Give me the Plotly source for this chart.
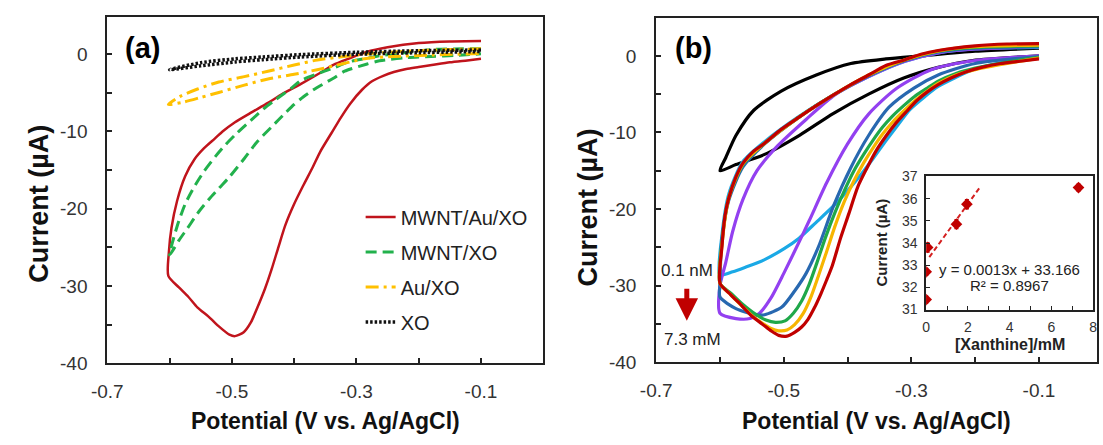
import plotly.graph_objects as go

W, H = 1103, 445

# ---------------- panel (a): CVs of the modified electrodes ----------------
# each loop: cathodic sweep (-0.1 -> -0.6 V) followed by the return sweep
a_red_v_fwd = [-0.1, -0.15, -0.2, -0.25, -0.284, -0.31, -0.337, -0.36, -0.389, -0.42, -0.442,
               -0.47, -0.495, -0.515, -0.527, -0.545, -0.56, -0.575, -0.588, -0.597, -0.601, -0.602]
a_red_i_fwd = [1.72, 1.66, 1.45, 0.9, 0.29, -0.5, -1.37, -2.5, -3.85, -5.2, -6.3,
               -7.6, -8.8, -10.0, -10.9, -12.2, -13.6, -15.8, -19.0, -22.5, -25.5, -28.7]
a_red_v_rev = [-0.602, -0.585, -0.57, -0.555, -0.537, -0.52, -0.504, -0.495, -0.481, -0.47,
               -0.459, -0.447, -0.436, -0.425, -0.414, -0.4, -0.386, -0.37, -0.358, -0.34,
               -0.325, -0.31, -0.291, -0.275, -0.257, -0.24, -0.22, -0.2, -0.179, -0.15, -0.122, -0.1]
a_red_i_rev = [-28.9, -30.2, -31.4, -32.8, -34.0, -35.3, -36.3, -36.5, -36.0, -34.8,
               -32.8, -30.4, -27.8, -24.9, -22.1, -19.4, -17.1, -14.6, -12.6, -10.2,
               -8.2, -6.4, -4.6, -3.5, -2.8, -2.3, -1.9, -1.65, -1.4, -1.05, -0.8, -0.6]

a_green_v_fwd = [-0.1, -0.13, -0.18, -0.232, -0.263, -0.284, -0.313, -0.337, -0.358, -0.389, -0.403,
                 -0.43, -0.448, -0.47, -0.493, -0.51, -0.526, -0.545, -0.56, -0.575, -0.588, -0.6]
a_green_i_fwd = [0.7, 0.7, 0.6, 0.1, -0.2, -0.54, -1.0, -1.8, -2.4, -3.4, -4.3,
                 -5.9, -7.0, -8.6, -10.3, -11.7, -13.2, -15.2, -17.1, -19.4, -22.3, -26.0]
a_green_v_rev = [-0.6, -0.585, -0.571, -0.555, -0.537, -0.52, -0.504, -0.48, -0.459, -0.436, -0.414,
                 -0.4, -0.385, -0.369, -0.337, -0.319, -0.284, -0.263, -0.22, -0.18, -0.14, -0.1]
a_green_i_rev = [-26.0, -24.1, -22.5, -20.6, -18.8, -17.3, -15.9, -13.5, -11.3, -9.4, -7.6,
                 -6.5, -5.5, -4.6, -3.1, -2.2, -1.3, -0.85, -0.45, -0.3, -0.15, 0.05]

a_orange_v_fwd = [-0.1, -0.15, -0.2, -0.25, -0.284, -0.32, -0.363, -0.4, -0.442, -0.48, -0.521, -0.555, -0.584, -0.602]
a_orange_i_fwd = [0.7, 0.6, 0.45, 0.25, 0.04, -0.3, -0.75, -1.4, -2.2, -2.9, -3.6, -4.5, -5.5, -6.5]
a_orange_v_rev = [-0.602, -0.578, -0.55, -0.521, -0.48, -0.442, -0.4, -0.363, -0.32, -0.284, -0.24, -0.18, -0.1]
a_orange_i_rev = [-6.5, -6.2, -5.6, -4.95, -4.0, -3.2, -2.6, -2.0, -1.2, -0.54, -0.3, -0.1, 0.1]

a_black_v_fwd = [-0.1, -0.2, -0.3, -0.389, -0.45, -0.495, -0.55, -0.6]
a_black_i_fwd = [0.55, 0.45, 0.25, -0.05, -0.35, -0.6, -1.1, -2.0]
a_black_v_rev = [-0.6, -0.55, -0.495, -0.45, -0.389, -0.3, -0.2, -0.1]
a_black_i_rev = [-2.2, -1.5, -1.0, -0.7, -0.35, 0.0, 0.2, 0.35]

# ---------------- panel (b): CVs with increasing xanthine ----------------
b_black_v_fwd = [-0.1, -0.2, -0.285, -0.34, -0.395, -0.449, -0.504, -0.547, -0.575, -0.591, -0.6]
b_black_i_fwd = [1.0, 0.6, 0.0, -0.4, -1.0, -2.5, -4.6, -7.1, -10.4, -13.3, -15.0]
b_black_v_rev = [-0.6, -0.575, -0.531, -0.476, -0.422, -0.367, -0.312, -0.258, -0.204, -0.1]
b_black_i_rev = [-15.0, -14.2, -12.9, -10.4, -7.5, -5.0, -2.9, -1.5, -0.6, 0.0]

b_cyan_v_fwd = [-0.1, -0.2, -0.258, -0.31, -0.367, -0.42, -0.476, -0.53, -0.564, -0.586, -0.597, -0.6]
b_cyan_i_fwd = [1.1, 0.9, 0.4, -0.7, -2.7, -5.0, -7.9, -11.2, -13.8, -18.0, -23.5, -28.6]
b_cyan_v_rev = [-0.6, -0.58, -0.56, -0.53, -0.5, -0.476, -0.45, -0.422, -0.4, -0.378, -0.36,
                -0.34, -0.32, -0.302, -0.28, -0.258, -0.23, -0.204, -0.16, -0.1]
b_cyan_i_rev = [-28.6, -28.2, -27.6, -26.6, -25.2, -23.8, -21.8, -19.6, -17.6, -15.4, -13.4,
                -11.1, -8.9, -7.0, -5.4, -4.0, -2.8, -1.8, -0.9, -0.1]

b_purple_v_fwd = [-0.1, -0.2, -0.258, -0.31, -0.367, -0.42, -0.465, -0.509, -0.542, -0.564, -0.58, -0.591, -0.6, -0.6]
b_purple_i_fwd = [1.2, 0.9, 0.4, -0.7, -2.7, -5.1, -8.3, -11.7, -15.0, -18.75, -22.9, -27.0, -30.0, -33.6]
b_purple_v_rev = [-0.6, -0.575, -0.553, -0.538, -0.52, -0.5, -0.48, -0.46, -0.433, -0.4,
                  -0.367, -0.324, -0.269, -0.2, -0.1]
b_purple_i_rev = [-33.6, -34.3, -34.3, -33.6, -31.6, -28.4, -25.0, -21.5, -16.6, -11.5,
                  -7.6, -4.3, -1.8, -0.6, 0.0]

b_blue_v_fwd = [-0.1, -0.2, -0.258, -0.31, -0.367, -0.42, -0.476, -0.53, -0.564, -0.586, -0.597, -0.6, -0.6]
b_blue_i_fwd = [1.2, 1.0, 0.5, -0.6, -2.6, -5.0, -8.0, -11.5, -14.5, -18.8, -24.0, -29.7, -31.5]
b_blue_v_rev = [-0.6, -0.575, -0.544, -0.53, -0.503, -0.483, -0.465, -0.444, -0.422, -0.395,
                -0.367, -0.335, -0.296, -0.258, -0.2, -0.1]
b_blue_i_rev = [-31.5, -33.0, -33.8, -33.8, -32.8, -30.7, -28.4, -24.6, -19.6, -14.6,
                -10.4, -6.7, -4.2, -2.5, -1.0, -0.1]

b_green_v_fwd = [-0.1, -0.2, -0.258, -0.31, -0.367, -0.42, -0.476, -0.53, -0.564, -0.586, -0.597, -0.6]
b_green_i_fwd = [1.3, 1.1, 0.6, -0.55, -2.55, -5.0, -8.0, -11.4, -14.2, -18.5, -24.5, -29.7]
b_green_v_rev = [-0.6, -0.583, -0.565, -0.545, -0.528, -0.513, -0.498, -0.485, -0.472, -0.46,
                 -0.448, -0.435, -0.42, -0.405, -0.39, -0.375, -0.36, -0.345, -0.33, -0.312,
                 -0.295, -0.275, -0.258, -0.23, -0.2, -0.15, -0.1]
b_green_i_rev = [-29.7, -31.0, -32.4, -33.7, -34.5, -34.8, -34.6, -33.6, -32.0, -29.8,
                 -27.0, -23.8, -20.5, -17.6, -15.0, -12.9, -11.0, -9.3, -7.9, -6.5,
                 -5.3, -4.2, -3.3, -2.3, -1.6, -0.8, -0.2]

b_orange_v_fwd = [-0.1, -0.2, -0.258, -0.31, -0.367, -0.42, -0.476, -0.53, -0.564, -0.586, -0.597, -0.6]
b_orange_i_fwd = [1.4, 1.2, 0.65, -0.5, -2.5, -5.0, -8.0, -11.4, -14.1, -18.5, -24.8, -29.7]
b_orange_v_rev = [-0.6, -0.583, -0.565, -0.55, -0.534, -0.52, -0.508, -0.495, -0.483, -0.47,
                  -0.458, -0.446, -0.433, -0.42, -0.405, -0.39, -0.375, -0.36, -0.345, -0.33,
                  -0.312, -0.295, -0.275, -0.258, -0.23, -0.2, -0.15, -0.1]
b_orange_i_rev = [-29.7, -31.2, -32.7, -33.9, -34.9, -35.6, -35.9, -35.8, -35.1, -33.7,
                  -31.6, -28.8, -25.6, -22.3, -19.0, -16.3, -14.0, -12.0, -10.2, -8.7,
                  -7.2, -5.9, -4.6, -3.6, -2.5, -1.8, -1.0, -0.3]

b_red_v_fwd = [-0.1, -0.15, -0.2, -0.258, -0.285, -0.31, -0.34, -0.367, -0.395, -0.42, -0.449,
               -0.476, -0.504, -0.53, -0.548, -0.564, -0.575, -0.586, -0.592, -0.597, -0.6]
b_red_i_fwd = [1.6, 1.55, 1.3, 0.7, 0.2, -0.5, -1.25, -2.5, -3.75, -5.0, -6.5,
               -8.0, -9.6, -11.4, -12.5, -14.0, -15.8, -18.5, -20.8, -25.0, -29.7]
b_red_v_rev = [-0.6, -0.583, -0.565, -0.55, -0.534, -0.52, -0.508, -0.495, -0.483, -0.472,
               -0.462, -0.452, -0.442, -0.433, -0.424, -0.411, -0.398, -0.384, -0.37, -0.356,
               -0.34, -0.324, -0.307, -0.291, -0.275, -0.258, -0.237, -0.215, -0.19, -0.16, -0.13, -0.1]
b_red_i_rev = [-29.7, -31.2, -32.7, -34.0, -35.0, -35.9, -36.5, -36.6, -36.1, -35.4,
               -34.4, -32.9, -31.1, -29.3, -27.4, -23.8, -20.6, -17.1, -14.7, -12.5,
               -10.5, -8.75, -7.2, -5.8, -4.7, -3.75, -2.85, -2.1, -1.5, -1.0, -0.7, -0.4]

# ---------------- inset: calibration ----------------
xanthine_mM = [0.0, 0.0, 0.07, 1.45, 1.95, 7.3]
peak_current_uA = [31.45, 32.7, 33.8, 34.85, 35.75, 36.5]
peak_err_uA = [0.15, 0.15, 0.2, 0.2, 0.2, 0.15]
fit_slope_per_uM = 0.0013
fit_intercept = 33.166
fit_r2 = 0.8967
fit_x_mM = [0.15, 2.6]

RED = "#c0141c"
GREEN = "#22b14c"
ORANGE = "#ffc000"
BLACK = "#111111"

FONT = "Liberation Sans, Arial, sans-serif"

fig = go.Figure()


def loop(vf, i_f, vr, ir):
    return vf + vr[1:], i_f + ir[1:]


def add_cv(vf, i_f, vr, ir, color, width, dash, name, xa, ya, legend):
    v, i = loop(vf, i_f, vr, ir)
    fig.add_trace(go.Scatter(
        x=v, y=i, mode="lines", name=name, showlegend=legend, legendgroup=name,
        line=dict(color=color, width=width, dash=dash, shape="spline", smoothing=0.7),
        xaxis=xa, yaxis=ya, hoverinfo="skip"))


# panel (a)
add_cv(a_red_v_fwd, a_red_i_fwd, a_red_v_rev, a_red_i_rev, RED, 2.5, "solid", "MWNT/Au/XO", "x", "y", True)
add_cv(a_green_v_fwd, a_green_i_fwd, a_green_v_rev, a_green_i_rev, GREEN, 3, "11px,6px", "MWNT/XO", "x", "y", True)
add_cv(a_orange_v_fwd, a_orange_i_fwd, a_orange_v_rev, a_orange_i_rev, ORANGE, 3, "13px,5px,3px,5px", "Au/XO", "x", "y", True)
add_cv(a_black_v_fwd, a_black_i_fwd, a_black_v_rev, a_black_i_rev, BLACK, 3.5, "2.5px,2px", "XO", "x", "y", True)

# panel (b)
b_curves = [
    (b_black_v_fwd, b_black_i_fwd, b_black_v_rev, b_black_i_rev, "#000000"),
    (b_cyan_v_fwd, b_cyan_i_fwd, b_cyan_v_rev, b_cyan_i_rev, "#1aa9e6"),
    (b_purple_v_fwd, b_purple_i_fwd, b_purple_v_rev, b_purple_i_rev, "#9340f0"),
    (b_blue_v_fwd, b_blue_i_fwd, b_blue_v_rev, b_blue_i_rev, "#2868b0"),
    (b_green_v_fwd, b_green_i_fwd, b_green_v_rev, b_green_i_rev, "#1fa84a"),
    (b_orange_v_fwd, b_orange_i_fwd, b_orange_v_rev, b_orange_i_rev, "#f7b500"),
    (b_red_v_fwd, b_red_i_fwd, b_red_v_rev, b_red_i_rev, "#c00000"),
]
for vf, i_f, vr, ir, col in b_curves:
    add_cv(vf, i_f, vr, ir, col, 3.2, "solid", "", "x2", "y2", False)

# inset calibration
fit_y = [fit_intercept + fit_slope_per_uM * 1000 * x for x in fit_x_mM]
fig.add_trace(go.Scatter(x=fit_x_mM, y=fit_y, mode="lines", showlegend=False,
                         line=dict(color="#d42020", width=2, dash="5px,3px"),
                         xaxis="x3", yaxis="y3", hoverinfo="skip"))
fig.add_trace(go.Scatter(x=xanthine_mM, y=peak_current_uA, mode="markers", showlegend=False,
                         marker=dict(color="#c00000", size=9, symbol="diamond"),
                         error_y=dict(type="data", array=peak_err_uA, color="#c00000", thickness=1.5, width=2),
                         xaxis="x3", yaxis="y3", hoverinfo="skip"))

AX_LINE = "#222222"
TICK_FONT = dict(family=FONT, size=19, color="#333333")


def frame(**kw):
    d = dict(showline=True, linewidth=2, linecolor=AX_LINE, mirror=True, showgrid=False,
             zeroline=False, ticks="inside", ticklen=5, tickwidth=1.5, tickcolor=AX_LINE,
             tickfont=TICK_FONT)
    d.update(kw)
    return d


x_major = [-0.7, -0.5, -0.3, -0.1]
x_minor = [-0.6, -0.4, -0.2]
y_major = [0, -10, -20, -30, -40]
y_minor = [-5, -15, -25, -35]

fig.update_layout(
    width=W, height=H, margin=dict(l=0, r=0, t=0, b=0),
    paper_bgcolor="white", plot_bgcolor="white",
    xaxis=frame(domain=[93 / W, 537 / W], range=[-0.7, 0], anchor="y",
                tickvals=x_major, ticktext=["-0.7", "-0.5", "-0.3", "-0.1"],
                minor=dict(tickvals=x_minor, ticks="inside", ticklen=5, tickwidth=1.5, tickcolor=AX_LINE),
                ticklabelstandoff=10),
    yaxis=frame(domain=[1 - 371 / H, 1 - 9 / H], range=[-40, 4.87], anchor="x",
                tickvals=y_major, ticktext=["0", "-10", "-20", "-30", "-40"],
                minor=dict(tickvals=y_minor, ticks="inside", ticklen=5, tickwidth=1.5, tickcolor=AX_LINE),
                ticklabelstandoff=14),
    xaxis2=frame(domain=[652 / W, 1101 / W], range=[-0.7, -0.009], anchor="y2",
                 tickvals=x_major, ticktext=["-0.7", "-0.5", "-0.3", "-0.1"],
                 minor=dict(tickvals=x_minor, ticks="inside", ticklen=5, tickwidth=1.5, tickcolor=AX_LINE),
                 ticklabelstandoff=10),
    yaxis2=frame(domain=[1 - 370 / H, 1 - 10 / H], range=[-40, 5], anchor="x2",
                 tickvals=y_major, ticktext=["0", "-10", "-20", "-30", "-40"],
                 minor=dict(tickvals=y_minor, ticks="inside", ticklen=5, tickwidth=1.5, tickcolor=AX_LINE),
                 ticklabelstandoff=14),
    xaxis3=frame(domain=[927 / W, 1097 / W], range=[0, 8], anchor="y3", linewidth=1.5,
                 tickvals=[0, 2, 4, 6, 8], ticklen=4, tickwidth=1,
                 minor=dict(tickvals=[1, 3, 5, 7], ticks="inside", ticklen=4, tickwidth=1, tickcolor=AX_LINE),
                 tickfont=dict(family=FONT, size=14, color="#333333"), ticklabelstandoff=4),
    yaxis3=frame(domain=[1 - 315 / H, 1 - 176 / H], range=[31, 37], anchor="x3", linewidth=1.5,
                 tickvals=[31, 32, 33, 34, 35, 36, 37], ticklen=4, tickwidth=1,
                 tickfont=dict(family=FONT, size=14, color="#333333"), ticklabelstandoff=4),
    legend=dict(x=351 / W, y=1 - 198 / H, xanchor="left", yanchor="top",
                bgcolor="rgba(0,0,0,0)", tracegroupgap=6,
                font=dict(family=FONT, size=20, color="#222222")),
)

XT_FONT = dict(family=FONT, size=23, color="#111111")
YT_FONT = dict(family=FONT, size=27, color="#111111")
ann = [
    dict(text="<b>Potential (V vs. Ag/AgCl)</b>", x=315 / W, y=1 - 431 / H, font=XT_FONT),
    dict(text="<b>Potential (V vs. Ag/AgCl)</b>", x=876 / W, y=1 - 431 / H, font=XT_FONT),
    dict(text="<b>Current (µA)</b>", x=24 / W, y=1 - 205 / H, textangle=-90, font=YT_FONT),
    dict(text="<b>Current (µA)</b>", x=583 / W, y=1 - 208 / H, textangle=-90, font=YT_FONT),
    dict(text="<b>(a)</b>", x=129 / W, y=1 - 42 / H, font=dict(family=FONT, size=29, color="#000000")),
    dict(text="<b>(b)</b>", x=690 / W, y=1 - 42 / H, font=dict(family=FONT, size=29, color="#000000")),
    dict(text="<b>Current (µA)</b>", x=882 / W, y=1 - 245 / H, textangle=-90,
         font=dict(family=FONT, size=15, color="#222222")),
    dict(text="<b>[Xanthine]/mM</b>", x=1012 / W, y=1 - 351 / H,
         font=dict(family=FONT, size=16, color="#222222")),
]
for a in ann:
    a.update(xref="paper", yref="paper", showarrow=False, xanchor="center", yanchor="middle")
    fig.add_annotation(**a)

# fit equation in the inset
fig.add_annotation(text=f"y = {fit_slope_per_uM}x + {fit_intercept}", x=4.0, y=32.82, xref="x3", yref="y3",
                   showarrow=False, font=dict(family=FONT, size=15, color="#222222"))
fig.add_annotation(text=f"R² = {fit_r2}", x=4.0, y=32.1, xref="x3", yref="y3",
                   showarrow=False, font=dict(family=FONT, size=15, color="#222222"))

# concentration labels and arrow in panel (b)
fig.add_annotation(text="0.1 nM", x=-0.651, y=-28.0, xref="x2", yref="y2", showarrow=False,
                   font=dict(family=FONT, size=17, color="#222222"))
fig.add_annotation(text="7.3 mM", x=-0.643, y=-37.1, xref="x2", yref="y2", showarrow=False,
                   font=dict(family=FONT, size=17, color="#222222"))
fig.add_annotation(text="", x=-0.652, y=-34.6, ax=-0.652, ay=-30.2, xref="x2", yref="y2",
                   axref="x2", ayref="y2", showarrow=True, arrowhead=2, arrowsize=0.9,
                   arrowwidth=5, arrowcolor="#c00000")

fig.write_html("out.html")
